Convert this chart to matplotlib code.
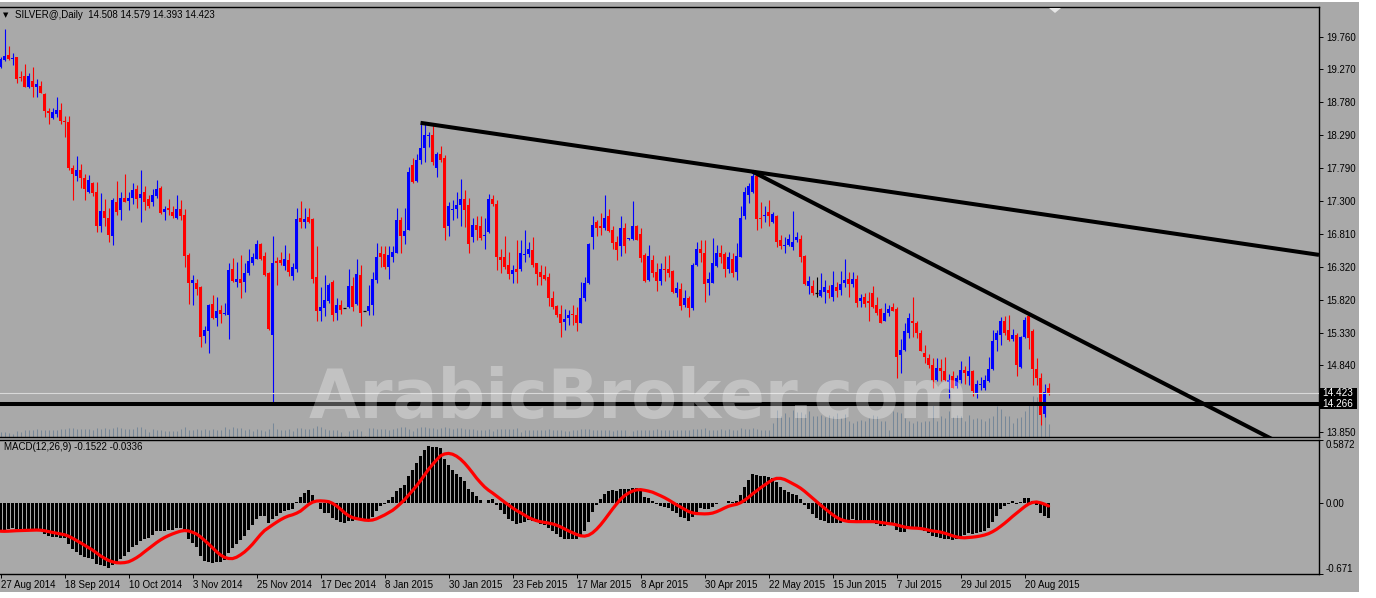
import numpy as np
import matplotlib.pyplot as plt
import matplotlib.transforms as mtransforms
from matplotlib.patches import Rectangle, Polygon

W, H = 1376, 598
BG = '#A9A9A9'

# daily OHLC, 27 Aug 2014 .. end Aug 2015
opens = [
    19.31, 19.41, 19.48, 19.42, 19.45, 19.16, 19.17, 19.00, 19.10, 19.00,
    19.02, 18.90, 18.65, 18.54, 18.60, 18.66, 18.50, 18.48, 17.80, 17.68,
    17.77, 17.64, 17.43, 17.57, 17.44, 16.93, 17.15, 17.05, 16.78, 17.29,
    17.16, 17.34, 17.30, 17.34, 17.48, 17.34, 17.43, 17.33, 17.28, 17.37,
    17.49, 17.14, 17.19, 17.14, 17.04, 17.18, 17.09, 16.49, 16.08, 16.08,
    16.01, 15.28, 15.35, 15.76, 15.55, 15.67, 15.61, 15.60, 16.28, 16.09,
    16.13, 16.09, 16.22, 16.37, 16.44, 16.66, 16.48, 16.23, 15.30, 16.41,
    16.42, 16.33, 16.42, 16.18, 16.29, 17.04, 16.98, 17.06, 17.03, 16.16,
    15.66, 15.70, 15.80, 16.09, 15.62, 15.74, 15.70, 15.72, 16.03, 15.76,
    16.19, 15.66, 15.65, 15.75, 16.12, 16.53, 16.51, 16.32, 16.46, 16.53,
    17.01, 16.78, 16.87, 17.84, 17.60, 17.92, 18.09, 18.27, 18.29, 17.79,
    18.00, 17.94, 16.92, 17.16, 17.18, 17.24, 17.33, 17.24, 16.76, 16.94,
    16.93, 16.77, 16.83, 17.33, 17.26, 16.47, 16.47, 16.34, 16.21, 16.29,
    16.29, 16.49, 16.51, 16.57, 16.37, 16.24, 16.19, 16.17, 15.85, 15.73,
    15.61, 15.49, 15.55, 15.60, 15.59, 15.48, 15.85, 16.07, 16.76, 16.99,
    16.92, 16.89, 17.07, 16.87, 16.68, 16.62, 16.89, 16.73, 16.73, 16.92,
    16.81, 16.49, 16.12, 16.42, 16.24, 16.11, 16.28, 16.28, 16.25, 15.93,
    15.98, 15.74, 15.85, 15.70, 16.34, 16.58, 16.52, 16.08, 16.08, 16.33,
    16.53, 16.51, 16.28, 16.44, 16.24, 16.47, 17.08, 17.39, 17.44, 17.67,
    17.05, 17.08, 17.13, 16.98, 17.07, 16.71, 16.62, 16.64, 16.61, 16.72,
    16.73, 16.48, 16.03, 16.03, 15.92, 15.88, 15.94, 15.97, 15.87, 16.02,
    15.97, 16.08, 16.14, 16.06, 16.14, 15.81, 15.87, 15.81, 15.93, 15.75,
    15.69, 15.51, 15.63, 15.71, 15.68, 15.00, 15.07, 15.33, 15.51, 15.47,
    15.32, 15.03, 14.95, 14.85, 14.62, 14.80, 14.76, 14.60, 14.68, 14.53,
    14.62, 14.77, 14.68, 14.76, 14.41, 14.55, 14.50, 14.61, 14.78, 15.22,
    15.30, 15.51, 15.37, 15.23, 15.30, 14.81, 15.26, 15.58, 15.35, 14.78,
    14.66, 14.12, 14.508]
highs = [
    19.46, 19.87, 19.62, 19.51, 19.46, 19.24, 19.35, 19.21, 19.30, 19.12,
    19.10, 18.92, 18.69, 18.69, 18.85, 18.76, 18.57, 18.57, 17.84, 17.97,
    17.85, 17.70, 17.69, 17.58, 17.58, 17.42, 17.33, 17.19, 17.35, 17.60,
    17.44, 17.71, 17.44, 17.57, 17.54, 17.77, 17.52, 17.39, 17.48, 17.62,
    17.52, 17.23, 17.33, 17.23, 17.39, 17.32, 17.18, 16.52, 16.20, 16.14,
    16.03, 15.43, 15.76, 15.89, 15.87, 15.74, 15.77, 16.37, 16.45, 16.39,
    16.50, 16.37, 16.59, 16.52, 16.71, 16.67, 16.54, 16.24, 16.77, 16.47,
    16.54, 16.64, 16.52, 16.37, 17.19, 17.30, 17.19, 17.19, 17.04, 16.62,
    16.02, 16.19, 16.08, 16.12, 15.85, 15.82, 15.70, 16.28, 16.17, 16.44,
    16.34, 15.66, 16.04, 16.24, 16.67, 16.63, 16.62, 16.62, 16.62, 17.19,
    17.06, 17.20, 17.81, 17.94, 18.00, 18.45, 18.45, 18.34, 18.45, 18.04,
    18.12, 17.99, 17.29, 17.32, 17.44, 17.63, 17.47, 17.34, 17.04, 17.08,
    17.08, 17.04, 17.41, 17.39, 17.32, 16.58, 16.78, 16.54, 16.34, 16.72,
    16.72, 16.87, 16.68, 16.76, 16.38, 16.34, 16.33, 16.22, 15.96, 15.75,
    15.75, 15.68, 15.67, 15.75, 15.72, 16.09, 16.17, 16.67, 17.08, 17.02,
    17.12, 17.39, 17.18, 16.93, 16.78, 17.07, 16.97, 16.75, 17.30, 16.94,
    16.89, 16.52, 16.64, 16.49, 16.38, 16.38, 16.48, 16.49, 16.27, 16.09,
    16.08, 15.97, 15.88, 16.37, 16.68, 16.71, 16.71, 16.24, 16.74, 16.64,
    16.64, 16.54, 16.54, 16.52, 16.67, 17.22, 17.51, 17.57, 17.75, 17.71,
    17.29, 17.22, 17.32, 17.14, 17.09, 16.79, 16.76, 16.81, 17.15, 16.84,
    16.79, 16.49, 16.18, 16.12, 16.16, 16.22, 16.12, 16.04, 16.26, 16.09,
    16.26, 16.44, 16.24, 16.24, 16.19, 15.91, 15.93, 15.94, 16.03, 15.87,
    15.70, 15.77, 15.75, 15.77, 15.71, 15.23, 15.47, 15.63, 15.87, 15.50,
    15.37, 15.15, 15.01, 14.95, 14.95, 14.93, 14.96, 14.71, 14.75, 14.70,
    14.90, 14.83, 14.98, 14.77, 14.63, 14.67, 14.70, 14.97, 15.37, 15.37,
    15.57, 15.58, 15.60, 15.38, 15.33, 15.28, 15.57, 15.62, 15.38, 14.95,
    14.72, 14.57, 14.579]
lows = [
    19.29, 19.40, 19.41, 19.34, 19.06, 19.09, 19.00, 18.99, 18.86, 18.85,
    18.91, 18.55, 18.45, 18.52, 18.56, 18.46, 18.26, 17.77, 17.32, 17.60,
    17.49, 17.32, 17.42, 17.37, 16.84, 16.84, 16.92, 16.69, 16.64, 17.09,
    17.02, 17.28, 17.17, 17.26, 17.19, 16.99, 17.17, 17.19, 17.23, 17.35,
    17.10, 17.01, 17.09, 17.05, 17.03, 17.02, 16.32, 15.76, 15.75, 15.89,
    15.12, 15.17, 15.02, 15.53, 15.43, 15.47, 15.60, 15.24, 16.09, 16.02,
    15.85, 15.94, 16.19, 16.34, 16.43, 16.42, 16.18, 15.37, 14.25, 16.04,
    16.34, 16.27, 16.18, 16.12, 16.24, 16.89, 16.89, 16.97, 16.07, 15.50,
    15.50, 15.58, 15.77, 15.50, 15.52, 15.61, 15.70, 15.70, 15.66, 15.75,
    15.43, 15.66, 15.60, 15.60, 16.08, 16.32, 16.28, 16.14, 16.39, 16.52,
    16.52, 16.66, 16.86, 17.57, 17.59, 17.86, 17.89, 18.11, 17.84, 17.66,
    17.89, 16.71, 16.78, 17.02, 17.04, 16.92, 16.91, 16.53, 16.68, 16.72,
    16.71, 16.59, 16.82, 17.23, 16.27, 16.23, 16.29, 16.14, 16.07, 16.07,
    16.26, 16.39, 16.47, 16.32, 16.04, 16.04, 16.12, 15.73, 15.68, 15.57,
    15.26, 15.37, 15.45, 15.45, 15.35, 15.47, 15.80, 16.06, 16.59, 16.78,
    16.79, 16.87, 16.83, 16.59, 16.42, 16.48, 16.52, 16.72, 16.72, 16.71,
    16.39, 16.09, 16.11, 16.17, 15.96, 16.04, 16.11, 16.17, 15.93, 15.87,
    15.67, 15.72, 15.57, 15.67, 16.33, 16.39, 15.79, 15.89, 16.07, 16.31,
    16.37, 16.16, 16.23, 16.17, 16.12, 16.46, 17.03, 17.27, 17.42, 16.86,
    16.89, 16.99, 16.92, 16.97, 16.61, 16.58, 16.52, 16.62, 16.57, 16.69,
    16.39, 16.04, 15.91, 15.89, 15.87, 15.87, 15.78, 15.85, 15.81, 15.87,
    15.89, 16.01, 15.87, 16.01, 15.72, 15.72, 15.72, 15.50, 15.70, 15.60,
    15.47, 15.50, 15.58, 15.65, 14.65, 14.73, 15.06, 15.25, 15.27, 15.25,
    15.05, 14.87, 14.80, 14.50, 14.61, 14.61, 14.61, 14.35, 14.50, 14.51,
    14.58, 14.57, 14.55, 14.38, 14.35, 14.47, 14.48, 14.60, 14.77, 15.06,
    15.15, 15.30, 15.20, 15.20, 14.68, 14.80, 15.25, 15.08, 14.55, 14.55,
    13.95, 14.07, 14.393]
closes = [
    19.42, 19.47, 19.42, 19.43, 19.12, 19.14, 19.01, 19.17, 19.00, 19.05,
    18.92, 18.65, 18.61, 18.63, 18.66, 18.50, 18.48, 17.80, 17.70, 17.77,
    17.64, 17.48, 17.62, 17.42, 16.93, 17.15, 17.05, 16.79, 17.32, 17.14,
    17.34, 17.29, 17.35, 17.47, 17.33, 17.41, 17.29, 17.23, 17.39, 17.48,
    17.12, 17.18, 17.17, 17.07, 17.18, 17.08, 16.48, 16.08, 16.12, 15.99,
    15.26, 15.37, 15.74, 15.55, 15.66, 15.61, 15.62, 16.27, 16.11, 16.14,
    16.08, 16.22, 16.40, 16.46, 16.66, 16.43, 16.19, 15.38, 16.38, 16.38,
    16.37, 16.44, 16.24, 16.32, 17.03, 16.99, 17.03, 16.99, 16.13, 15.66,
    15.72, 15.82, 16.04, 15.60, 15.75, 15.67, 15.70, 16.03, 15.71, 16.21,
    15.63, 15.66, 15.73, 16.13, 16.47, 16.47, 16.31, 16.49, 16.54, 17.02,
    16.78, 16.85, 17.74, 17.59, 17.92, 18.09, 18.29, 18.29, 17.88, 18.01,
    17.91, 16.89, 17.23, 17.18, 17.24, 17.33, 17.16, 16.66, 16.94, 16.86,
    16.74, 16.79, 17.33, 17.26, 16.46, 16.42, 16.31, 16.21, 16.27, 16.24,
    16.52, 16.51, 16.59, 16.34, 16.21, 16.17, 16.13, 15.85, 15.71, 15.60,
    15.48, 15.54, 15.60, 15.59, 15.47, 15.85, 16.08, 16.66, 16.94, 16.89,
    16.90, 17.05, 16.85, 16.67, 16.57, 16.90, 16.63, 16.74, 16.93, 16.72,
    16.45, 16.11, 16.48, 16.22, 16.10, 16.28, 16.27, 16.22, 15.94, 16.00,
    15.73, 15.85, 15.70, 16.34, 16.59, 16.52, 16.06, 16.14, 16.37, 16.52,
    16.46, 16.28, 16.46, 16.23, 16.48, 17.04, 17.44, 17.52, 17.67, 17.03,
    17.03, 17.09, 17.07, 17.10, 16.68, 16.62, 16.64, 16.73, 16.68, 16.76,
    16.46, 16.06, 16.11, 15.92, 15.92, 15.97, 16.01, 15.93, 16.04, 15.96,
    16.06, 16.12, 16.06, 16.13, 15.78, 15.85, 15.76, 15.77, 15.72, 15.62,
    15.48, 15.62, 15.68, 15.66, 14.97, 15.07, 15.35, 15.55, 15.47, 15.33,
    15.06, 14.97, 14.85, 14.63, 14.80, 14.75, 14.62, 14.63, 14.51, 14.65,
    14.77, 14.73, 14.76, 14.46, 14.56, 14.57, 14.63, 14.78, 15.21, 15.32,
    15.51, 15.32, 15.22, 15.30, 14.85, 15.26, 15.52, 15.25, 14.78, 14.65,
    14.10, 14.45, 14.423]
# tick volume
volumes = [
    5, 5, 4, 3, 6, 5, 7, 7, 7, 8, 7, 7, 7, 7, 7, 8, 8, 9, 9, 8,
    8, 8, 8, 7, 9, 8, 9, 8, 9, 10, 9, 8, 8, 8, 10, 10, 8, 5, 8, 7,
    7, 6, 6, 6, 6, 8, 10, 7, 7, 8, 7, 8, 7, 8, 7, 7, 10, 8, 10, 9,
    9, 7, 8, 6, 8, 7, 6, 8, 14, 8, 7, 7, 8, 6, 9, 9, 8, 8, 9, 11,
    10, 8, 7, 7, 7, 5, 1, 6, 7, 8, 6, 1, 9, 9, 8, 8, 8, 7, 8, 9,
    10, 10, 8, 6, 9, 10, 10, 9, 9, 8, 9, 10, 9, 8, 9, 9, 8, 8, 8, 7,
    7, 7, 8, 6, 8, 8, 8, 8, 8, 9, 5, 7, 7, 7, 7, 7, 7, 8, 7, 7,
    7, 6, 6, 7, 7, 8, 8, 8, 7, 7, 7, 7, 7, 6, 7, 7, 7, 1, 6, 7,
    7, 7, 7, 7, 8, 7, 7, 7, 7, 7, 7, 7, 7, 8, 8, 8, 9, 7, 7, 7,
    8, 7, 8, 7, 7, 9, 8, 8, 9, 8, 7, 7, 7, 14, 27, 21, 24, 20, 27, 25,
    25, 23, 26, 21, 21, 22, 20, 22, 21, 24, 19, 23, 16, 14, 16, 17, 16, 19, 22, 21,
    16, 16, 7, 26, 25, 24, 19, 16, 14, 16, 15, 16, 16, 33, 16, 21, 19, 26, 20, 22,
    21, 16, 22, 18, 19, 18, 16, 19, 21, 31, 28, 21, 21, 14, 19, 20, 26, 32, 41, 40,
    52, 22, 13]
vol_full = 430  # volume that would fill the price panel

date_labels = ['27 Aug 2014', '18 Sep 2014', '10 Oct 2014', '3 Nov 2014', '25 Nov 2014',
               '17 Dec 2014', '8 Jan 2015', '30 Jan 2015', '23 Feb 2015', '17 Mar 2015',
               '8 Apr 2015', '30 Apr 2015', '22 May 2015', '15 Jun 2015', '7 Jul 2015',
               '29 Jul 2015', '20 Aug 2015']
label_step = 16
price_ticks = [19.760, 19.270, 18.780, 18.290, 17.790, 17.300, 16.810, 16.320,
               15.820, 15.330, 14.840, 13.850]
macd_ticks = [0.5872, 0.0, -0.671]
macd_tick_labels = ['0.5872', '0.00', '-0.671']

bid_price = 14.423
support_level = 14.266
trend_upper = [(105, 18.47), (188, 17.74)]
trend_lower = [(188, 17.74), (262, 15.46)]

# EMA state and last MACD values before the first visible bar
ema_seed = (19.58, 19.86)
macd_before = [-0.25, -0.26, -0.26, -0.27, -0.27, -0.28, -0.28, -0.28]

price_lim = (13.770, 20.203)
macd_lim = (-0.671, 0.5872)
x_lim = (-0.125, 329.6)

# ---- MACD(12,26,9)
ef, es = ema_seed
macd = []
for c in closes:
    ef += (c - ef) * 2.0 / 13
    es += (c - es) * 2.0 / 27
    macd.append(ef - es)
hist = macd_before + macd
signal = [np.mean(hist[i:i + 9]) for i in range(len(macd))]

o = np.array(opens); h = np.array(highs); l = np.array(lows); c = np.array(closes)
x = np.arange(len(c))

plt.rcParams['font.family'] = ['Liberation Sans', 'DejaVu Sans']
fig = plt.figure(figsize=(W / 100, H / 100), dpi=100, facecolor='white')


def frame(x0, y0, x1, y1):
    return [x0 / W, 1 - y1 / H, (x1 - x0) / W, (y1 - y0) / H]


fig.patches.append(Rectangle((0, 1 - 592 / H), 1359 / W, 590 / H, transform=fig.transFigure,
                             facecolor=BG, edgecolor='none', zorder=-5))

ax = fig.add_axes(frame(0, 7, 1319, 437), facecolor=BG)
axm = fig.add_axes(frame(0, 440, 1319, 574), facecolor=BG)

for a in (ax, axm):
    a.set_xlim(*x_lim)
    for side in ('top', 'right', 'bottom'):
        a.spines[side].set_linewidth(1.0)
        a.spines[side].set_color('black')
    a.spines['left'].set_visible(False)
    a.yaxis.tick_right()
    a.tick_params(axis='both', direction='out', length=3, width=0.7, labelsize=7.0,
                  colors='black', pad=2)

ax.set_ylim(*price_lim)
axm.set_ylim(*macd_lim)

# volumes
vtrans = mtransforms.blended_transform_factory(ax.transData, ax.transAxes)
ax.vlines(x, 0, np.array(volumes) / vol_full, color='#778899', lw=0.75, transform=vtrans, zorder=1)

# candles
up = c > o
down = c < o
flat = c == o
body_lo = np.minimum(o, c)
body_h = np.maximum(np.abs(c - o), 0.016)
for mask, col in ((up, '#0000FF'), (down, '#FF0000')):
    ax.vlines(x[mask], l[mask], h[mask], color=col, lw=0.8, zorder=3)
    ax.bar(x[mask], body_h[mask], bottom=body_lo[mask], width=0.75, color=col,
           linewidth=0, zorder=3)
ax.vlines(x[flat], l[flat], h[flat], color='black', lw=0.8, zorder=3)
ax.hlines(c[flat], x[flat] - 0.45, x[flat] + 0.45, color='black', lw=0.9, zorder=3)

# levels
ax.axhline(bid_price, color='#D9D9D9', lw=0.8, zorder=4)
ax.axhline(support_level, color='black', lw=2.9, zorder=4)


def ray(p0, p1, x_end):
    (x0, y0), (x1, y1) = p0, p1
    k = (y1 - y0) / (x1 - x0)
    return [x0, x_end], [y0, y0 + k * (x_end - x0)]


for pts in (trend_upper, trend_lower):
    xs, ys = ray(pts[0], pts[1], x_lim[1])
    ax.plot(xs, ys, color='black', lw=2.9, solid_capstyle='butt', zorder=5)

ax.set_xticks([])
ax.set_yticks(price_ticks)
ax.set_yticklabels(['%.3f' % p for p in price_ticks])

# price tags on the right axis
ytrans = mtransforms.blended_transform_factory(ax.transAxes, ax.transData)
px_per_price = 430 / (price_lim[1] - price_lim[0])
half_h = 5.2 / px_per_price
for val in (bid_price, support_level):
    ax.add_patch(Rectangle((1.0, val - half_h), 38 / 1319, 2 * half_h, transform=ytrans,
                           facecolor='black', edgecolor='none', clip_on=False, zorder=6))
    ax.text(1.0 + 3 / 1319, val, '%.3f' % val, transform=ytrans, ha='left', va='center',
            fontsize=7.2, color='white', zorder=7, clip_on=False)

# MACD panel
axm.bar(x, macd, width=0.55, color='black', linewidth=0, zorder=2)
axm.plot(x, signal, color='#FF0000', lw=2.3, zorder=3, solid_capstyle='round')
axm.set_yticks(macd_ticks)
axm.set_yticklabels(macd_tick_labels)
ylabs = axm.get_yticklabels()
ylabs[0].set_verticalalignment('top')
ylabs[-1].set_verticalalignment('bottom')
axm.set_xticks(x[::label_step][:len(date_labels)])
axm.set_xticklabels(date_labels)
for t in axm.get_xticklabels():
    t.set_horizontalalignment('left')
axm.tick_params(axis='x', pad=1.5)
axm.text(4 / 1319, 1 - 7 / 134, 'MACD(12,26,9) %.4f %.4f' % (-0.1522, -0.0336),
         transform=axm.transAxes, fontsize=7.0, va='center', ha='left')

# header
fig.text(3 / W, 1 - 15.5 / H, '\u25bc', fontsize=5, va='center', ha='left', family='DejaVu Sans')
fig.text(15 / W, 1 - 15.5 / H, 'SILVER@,Daily  %.3f %.3f %.3f %.3f' % (opens[-1], highs[-1], lows[-1], closes[-1]),
         fontsize=7.0, va='center', ha='left')
fig.patches.append(Polygon([[1049 / W, 1 - 8 / H], [1061 / W, 1 - 8 / H], [1055 / W, 1 - 13 / H]],
                           closed=True, transform=fig.transFigure, facecolor='#E6E6E6',
                           edgecolor='none', zorder=6))

# watermark
fig.text(639 / W, 1 - 418 / H, 'ArabicBroker.com', fontsize=48, fontweight='bold',
         family='DejaVu Sans', color='white', alpha=0.3, ha='center', va='baseline', zorder=10)

fig.savefig('out.png', dpi=100, facecolor=fig.get_facecolor())
